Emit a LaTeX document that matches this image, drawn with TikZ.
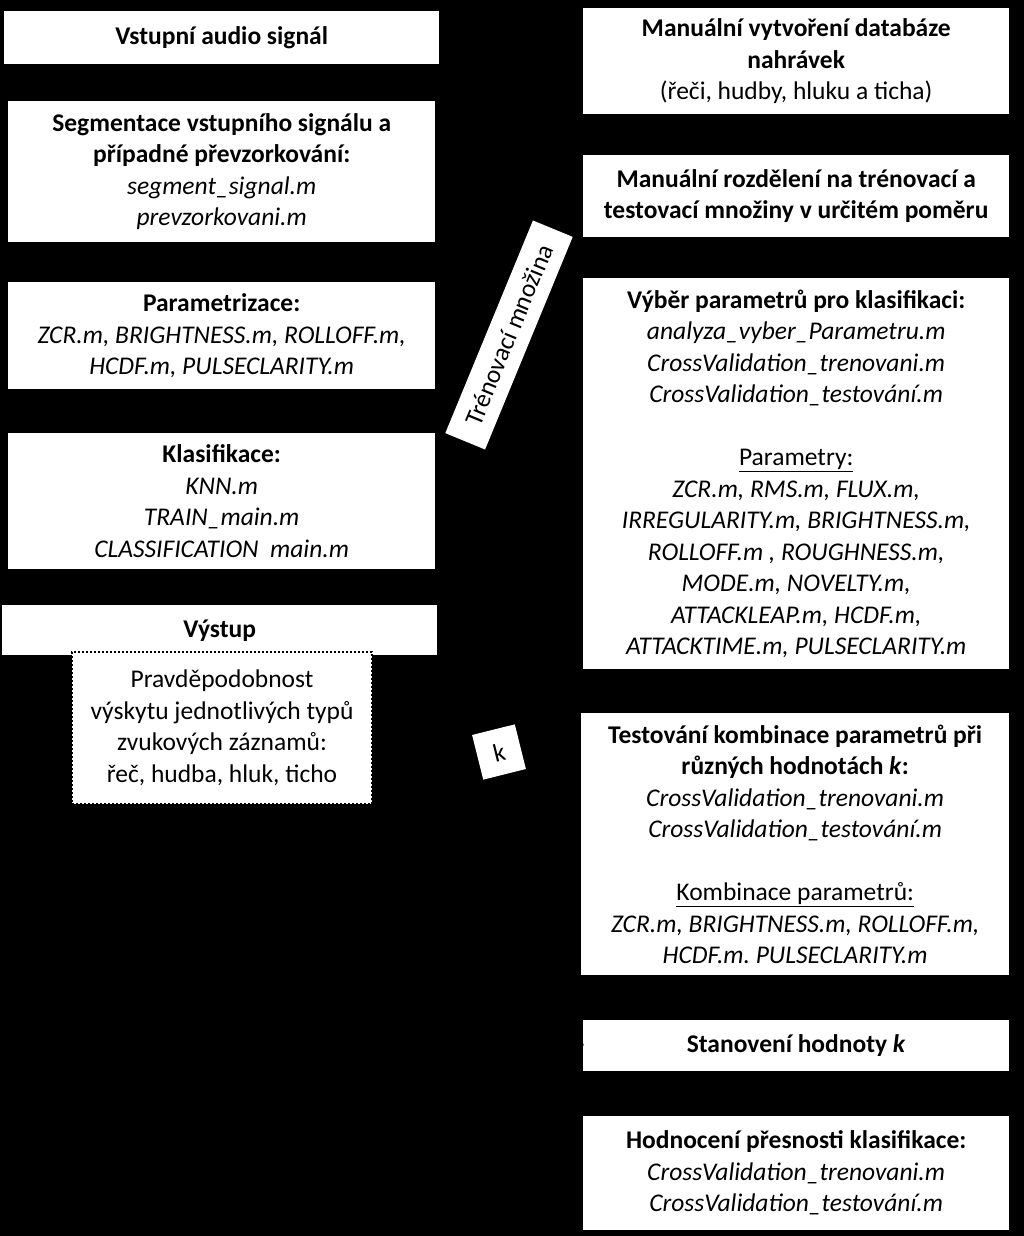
\documentclass[tikz,border=0pt]{standalone}
\usepackage{fontspec}
\setmainfont{Carlito}
\usepackage{tikz}
\usetikzlibrary{positioning,calc,arrows.meta}
\frenchspacing

\tikzset{
  stepbox/.style={fill=white, inner sep=2pt, align=center, anchor=north west,
    font=\fontsize{25.5}{31.5}\selectfont},
  tagbox/.style={fill=white, inner sep=3pt, align=center,
    font=\fontsize{25.5}{31.5}\selectfont},
  arrow/.style={-{Stealth[length=9pt]}, line width=1.5pt, black}
}

\begin{document}
\begin{tikzpicture}[x=1pt, y=-1pt]
        % Black background fixes the page size
        \fill[black] (0,0) rectangle (1024,1236);
        \useasboundingbox (0,0) rectangle (1024,1236);

        % Left column: processing of the input signal
        \node[stepbox, minimum width=435pt, minimum height=53pt] (input) at (4,11)
            {\textbf{Vstupní audio signál}};
        \node[stepbox, minimum width=427pt, minimum height=141pt] (segment) at (8,101)
            {\textbf{Segmentace vstupního signálu a}\\ \textbf{případné převzorkování:}\\
             \textit{segment\_signal.m}\\ \textit{prevzorkovani.m}};
        \node[stepbox, minimum width=427pt, minimum height=107pt] (param) at (8,282)
            {\textbf{Parametrizace:}\\ \textit{ZCR.m, BRIGHTNESS.m, ROLLOFF.m,}\\
             \textit{HCDF.m, PULSECLARITY.m}};
        \node[stepbox, minimum width=427pt, minimum height=136pt] (classify) at (8,433)
            {\textbf{Klasifikace:}\\ \textit{KNN.m}\\ \textit{TRAIN\_main.m}\\
             \textit{CLASSIFICATION~ main.m}};
        \node[stepbox, minimum width=435pt, minimum height=50pt] (output) at (2,605)
            {\textbf{Výstup}};
        \node[stepbox, draw=black, dotted, line width=2pt, minimum width=300pt,
              minimum height=152pt] (result) at (71,651)
            {Pravděpodobnost\\ výskytu jednotlivých typů\\ zvukových záznamů:\\
             řeč, hudba, hluk, ticho};

        % Right column: preparation of the classifier
        \node[stepbox, minimum width=426pt, minimum height=106pt] (database) at (583,8)
            {\textbf{Manuální vytvoření databáze}\\ \textbf{nahrávek}\\
             (řeči, hudby, hluku a ticha)};
        \node[stepbox, minimum width=426pt, minimum height=82pt] (split) at (583,155)
            {\textbf{Manuální rozdělení na trénovací a}\\
             \textbf{testovací množiny v určitém poměru}};
        \node[stepbox, minimum width=426pt, minimum height=391pt] (select) at (583,278)
            {\textbf{Výběr parametrů pro klasifikaci:}\\ \textit{analyza\_vyber\_Parametru.m}\\
             \textit{CrossValidation\_trenovani.m}\\ \textit{CrossValidation\_testování.m}\\[31.5pt]
             \underline{Parametry:}\\ \textit{ZCR.m, RMS.m, FLUX.m,}\\
             \textit{IRREGULARITY.m, BRIGHTNESS.m,}\\ \textit{ROLLOFF.m , ROUGHNESS.m,}\\
             \textit{MODE.m, NOVELTY.m,}\\ \textit{ATTACKLEAP.m, HCDF.m,}\\
             \textit{ATTACKTIME.m, PULSECLARITY.m}};
        \node[stepbox, minimum width=428pt, minimum height=262pt] (combine) at (581,713)
            {\textbf{Testování kombinace parametrů při}\\ \textbf{různých hodnotách \textit{k}:}\\
             \textit{CrossValidation\_trenovani.m}\\ \textit{CrossValidation\_testování.m}\\[31.5pt]
             \underline{Kombinace parametrů:}\\ \textit{ZCR.m, BRIGHTNESS.m, ROLLOFF.m,}\\
             \textit{HCDF.m. PULSECLARITY.m}};
        \node[stepbox, minimum width=426pt, minimum height=51pt] (kval) at (583,1020)
            {\textbf{Stanovení hodnoty \textit{k}}};
        \node[stepbox, minimum width=426pt, minimum height=114pt] (accuracy) at (583,1116)
            {\textbf{Hodnocení přesnosti klasifikace:}\\ \textit{CrossValidation\_trenovani.m}\\
             \textit{CrossValidation\_testování.m}};

        % Arrows down both columns
        \foreach \a/\b in {input/segment, segment/param, param/classify, classify/output,
                           database/split, split/select, select/combine, combine/kval,
                           kval/accuracy}
            \draw[arrow] (\a.south) -- (\b.north);

        % Arrows into the classifier
        \coordinate (trainend) at (437,558);
        \draw[arrow] (split.south west) -- (trainend);
        \draw[arrow] (kval.west) -- (trainend);

        % Labels of the two arrows
        \node[tagbox, minimum width=230pt, minimum height=43pt, rotate=67.6] (trainlabel)
            at (509,335) {Trénovací množina};
        \node[tagbox, minimum width=44pt, minimum height=46pt, rotate=14] (klabel)
            at (499,752) {k};

\end{tikzpicture}
\end{document}
